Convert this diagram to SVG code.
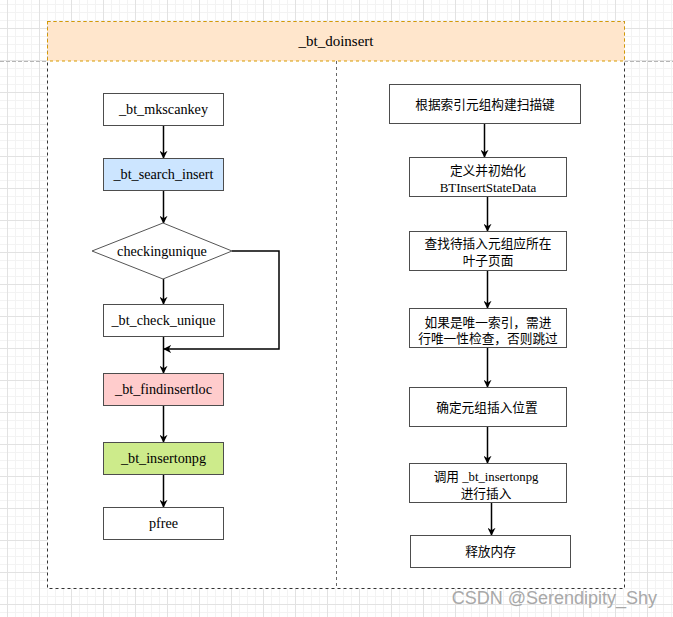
<svg xmlns="http://www.w3.org/2000/svg" width="673" height="617" viewBox="0 0 673 617">
<style>
.box{fill:#fff;stroke:#4d4d4d;stroke-width:1}
.lat{font-family:"Liberation Serif","Noto Sans CJK SC",serif;font-size:14.2px;fill:#000;text-anchor:middle}
.cjk{font-family:"Liberation Serif","Noto Sans CJK SC",sans-serif;font-size:12.7px;fill:#000;text-anchor:middle}
.edge{fill:none;stroke:#000;stroke-width:1.5}
</style>
<defs>
<pattern id="grid" x="7" y="28" width="32" height="32" patternUnits="userSpaceOnUse">
<path d="M8.5 0V32M16.5 0V32M24.5 0V32M0 8.5H32M0 16.5H32M0 24.5H32" stroke="#f3f3f3" stroke-width="1" fill="none"/>
<path d="M0.5 0V32M0 0.5H32" stroke="#e2e2e2" stroke-width="1" fill="none"/>
</pattern>
<marker id="arr" viewBox="0 0 10 10" refX="9" refY="5" markerWidth="8" markerHeight="8" markerUnits="userSpaceOnUse" orient="auto">
<path d="M0 0L10 5L0 10L3 5Z" fill="#000"/>
</marker>
</defs>
<rect width="673" height="617" fill="#fff"/>
<rect width="673" height="617" fill="url(#grid)"/>
<line x1="0" y1="61.5" x2="673" y2="61.5" stroke="#b5b5b5" stroke-dasharray="4 2"/>

<g id="container">
<rect x="47.5" y="21.5" width="577" height="567" fill="#fff" stroke="#333" stroke-dasharray="3 3"/>
<rect x="47.5" y="21.5" width="577" height="39.5" fill="#ffe6cc" stroke="#d79b00" stroke-dasharray="3 3"/>
<text x="336" y="46" class="lat" style="font-size:15px">_bt_doinsert</text>
<line x1="336.5" y1="61" x2="336.5" y2="589" stroke="#666" stroke-dasharray="3 3"/>
</g>

<g id="connectors">
<line class="edge" x1="163.5" y1="125.5" x2="163.5" y2="158" marker-end="url(#arr)"/>
<line class="edge" x1="163.5" y1="190.5" x2="163.5" y2="223" marker-end="url(#arr)"/>
<line class="edge" x1="163.5" y1="279" x2="163.5" y2="304" marker-end="url(#arr)"/>
<line class="edge" x1="163.5" y1="336.5" x2="163.5" y2="373" marker-end="url(#arr)"/>
<polyline class="edge" points="232,251 279,251 279,349 164,349" marker-end="url(#arr)"/>
<line class="edge" x1="163.5" y1="405.5" x2="163.5" y2="442" marker-end="url(#arr)"/>
<line class="edge" x1="163.5" y1="474.5" x2="163.5" y2="507" marker-end="url(#arr)"/>
<line class="edge" x1="484.5" y1="123.5" x2="484.5" y2="157" marker-end="url(#arr)"/>
<line class="edge" x1="487.5" y1="196.5" x2="487.5" y2="231" marker-end="url(#arr)"/>
<line class="edge" x1="487.5" y1="270.5" x2="487.5" y2="308" marker-end="url(#arr)"/>
<line class="edge" x1="487.5" y1="347.5" x2="487.5" y2="387" marker-end="url(#arr)"/>
<line class="edge" x1="487.5" y1="426.5" x2="487.5" y2="463" marker-end="url(#arr)"/>
<line class="edge" x1="491.5" y1="502.5" x2="491.5" y2="535" marker-end="url(#arr)"/>
</g>

<g id="n_mkscankey">
<rect class="box" x="103.5" y="93.5" width="120" height="32"/>
<text class="lat" x="163.5" y="114">_bt_mkscankey</text>
</g>
<g id="n_search_insert">
<rect class="box" x="103.5" y="158.5" width="120" height="32" style="fill:#cce5ff"/>
<text class="lat" x="163.5" y="179">_bt_search_insert</text>
</g>
<g id="n_checkingunique">
<polygon points="163,223 232,251 163,279 92,251" fill="#fff" stroke="#555" stroke-width="1"/>
<text class="lat" x="162" y="255.5">checkingunique</text>
</g>
<g id="n_check_unique">
<rect class="box" x="103.5" y="304.5" width="120" height="32"/>
<text class="lat" x="163.5" y="325">_bt_check_unique</text>
</g>
<g id="n_findinsertloc">
<rect class="box" x="103.5" y="373.5" width="120" height="32" style="fill:#ffcccc"/>
<text class="lat" x="163.5" y="394">_bt_findinsertloc</text>
</g>
<g id="n_insertonpg">
<rect class="box" x="103.5" y="442.5" width="120" height="32" style="fill:#cdeb8b"/>
<text class="lat" x="163.5" y="463">_bt_insertonpg</text>
</g>
<g id="n_pfree">
<rect class="box" x="103.5" y="507.5" width="120" height="32"/>
<text class="lat" x="163.5" y="528">pfree</text>
</g>

<g id="r_scankey">
<rect class="box" x="389.5" y="84.5" width="191" height="39"/>
<text class="cjk" x="485" y="108.5">根据索引元组构建扫描键</text>
</g>
<g id="r_define">
<rect class="box" x="409.5" y="157.5" width="157" height="39"/>
<text class="cjk" x="488" y="174.5">定义并初始化</text>
<text class="cjk" x="488" y="191.5" style="font-size:13px">BTInsertStateData</text>
</g>
<g id="r_find">
<rect class="box" x="409.5" y="231.5" width="157" height="39"/>
<text class="cjk" x="488" y="247.5">查找待插入元组应所在</text>
<text class="cjk" x="488" y="264.5">叶子页面</text>
</g>
<g id="r_unique">
<rect class="box" x="409.5" y="308.5" width="157" height="39"/>
<text class="cjk" x="488" y="326.5">如果是唯一索引，需进</text>
<text class="cjk" x="488" y="342.5">行唯一性检查，否则跳过</text>
</g>
<g id="r_loc">
<rect class="box" x="409.5" y="387.5" width="157" height="39"/>
<text class="cjk" x="487" y="411.5">确定元组插入位置</text>
</g>
<g id="r_insert">
<rect class="box" x="409.5" y="463.5" width="157" height="39"/>
<text class="cjk" x="486" y="480.5">调用 _bt_insertonpg</text>
<text class="cjk" x="486" y="497.5">进行插入</text>
</g>
<g id="r_free">
<rect class="box" x="410.5" y="535.5" width="160" height="32"/>
<text class="cjk" x="490.5" y="555.5">释放内存</text>
</g>

<text x="657" y="604" font-family="Liberation Sans,Arial,sans-serif" font-size="18" fill="#a8a8a8" text-anchor="end">CSDN @Serendipity_Shy</text>
</svg>
